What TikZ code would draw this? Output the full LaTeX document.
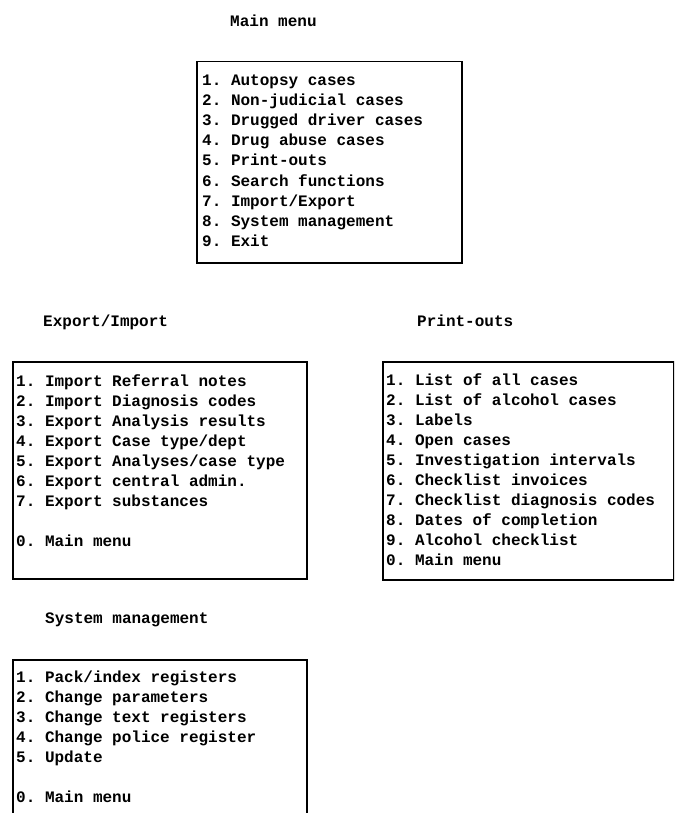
\documentclass[tikz,border=0pt]{standalone}
\usepackage{fontspec}
\setmonofont{Liberation Mono}
\usepackage{tikz}
\usetikzlibrary{positioning}

\tikzset{
  menutext/.style={font=\ttfamily\bfseries\fontsize{16}{20}\selectfont, inner sep=0pt, anchor=base west},
  menutitle/.style={menutext},
  menubox/.style={draw=black, line width=1.5pt, anchor=north west, inner sep=0pt}
}

\begin{document}
\begin{tikzpicture}[x=1pt,y=-1pt]
    \useasboundingbox (0,0) rectangle (674,813);
    \clip (0,0) rectangle (674,813);
    % main menu
    \node[menutitle] (maintitle) at (230,27) {Main menu};
    \node[menubox, minimum width=265pt, minimum height=201pt] (mainbox) at (196,61) {};
    \foreach \txt [count=\i] in {1. Autopsy cases, 2. Non-judicial cases, 3. Drugged driver cases,
        4. Drug abuse cases, 5. Print-outs, 6. Search functions, 7. Import/Export,
        8. System management, 9. Exit}
      \node[menutext] (main-\i) at (202,{86+20*(\i-1)}) {\txt};
    % export/import
    \node[menutitle] (exptitle) at (43,326) {Export/Import};
    \node[menubox, minimum width=294pt, minimum height=217pt] (expbox) at (12,361) {};
    \foreach \txt [count=\i] in {1. Import Referral notes, 2. Import Diagnosis codes,
        3. Export Analysis results, 4. Export Case type/dept, 5. Export Analyses/case type,
        6. Export central admin., 7. Export substances}
      \node[menutext] (exp-\i) at (16,{386+20*(\i-1)}) {\txt};
    \node[menutext] (exp-0) at (16,546) {0. Main menu};
    % print-outs
    \node[menutitle] (prttitle) at (417,326) {Print-outs};
    \node[menubox, minimum width=291pt, minimum height=218pt] (prtbox) at (382,361) {};
    \foreach \txt [count=\i] in {1. List of all cases, 2. List of alcohol cases, 3. Labels,
        4. Open cases, 5. Investigation intervals, 6. Checklist invoices,
        7. Checklist diagnosis codes, 8. Dates of completion, 9. Alcohol checklist, 0. Main menu}
      \node[menutext] (prt-\i) at (386,{385+20*(\i-1)}) {\txt};
    % system management
    \node[menutitle] (systitle) at (45,623) {System management};
    \node[menubox, minimum width=294pt, minimum height=180pt] (sysbox) at (12,659) {};
    \foreach \txt [count=\i] in {1. Pack/index registers, 2. Change parameters,
        3. Change text registers, 4. Change police register, 5. Update}
      \node[menutext] (sys-\i) at (16,{682+20*(\i-1)}) {\txt};
    \node[menutext] (sys-0) at (16,802) {0. Main menu};
\end{tikzpicture}
\end{document}
